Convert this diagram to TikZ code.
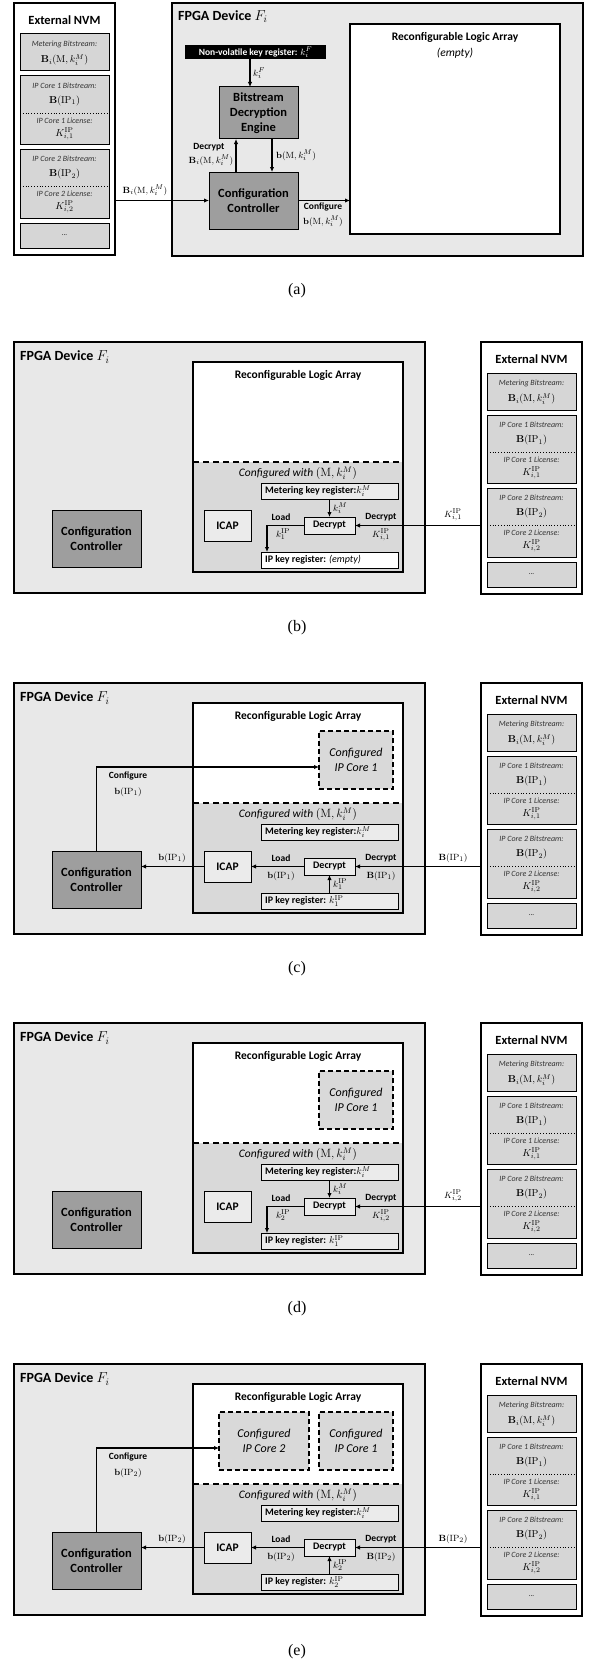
\documentclass[tikz,border=0pt]{standalone}
\usepackage[no-math]{fontspec}
\setmainfont{Carlito}
\newfontfamily\capfont{Liberation Serif}
\usetikzlibrary{arrows.meta}

\definecolor{fpgabg}{gray}{0.91}
\definecolor{nvmgray}{gray}{0.84}
\definecolor{lowgray}{gray}{0.85}
\definecolor{darkg}{gray}{0.62}
\definecolor{lightg}{gray}{0.92}
\definecolor{coreg}{gray}{0.85}

\tikzset{
 fpgabox/.style={draw, line width=2.2pt, fill=fpgabg, inner sep=0pt, outer sep=0pt},
 nvmbox/.style={draw, line width=2.2pt, fill=white, inner sep=0pt, outer sep=0pt},
 nvmitem/.style={draw, line width=1pt, fill=nvmgray, inner sep=0pt, outer sep=0pt},
 rlaa/.style={draw, line width=1.8pt, fill=white, inner sep=0pt, outer sep=0pt},
 rlab/.style={fill=white, inner sep=0pt, outer sep=0pt},
 darkbox/.style={draw, line width=1pt, fill=darkg, inner sep=1pt, outer sep=0pt, align=center, font=\bfseries\fontsize{12.5}{15}\selectfont},
 keybox/.style={fill=black, text=white, inner sep=1pt, outer sep=0pt, font=\bfseries\fontsize{9.5}{10}\selectfont},
 icapbox/.style={draw, line width=1pt, fill=lightg, inner sep=1pt, outer sep=0pt, font=\bfseries\fontsize{11.5}{13}\selectfont},
 decbox/.style={draw, line width=1pt, fill=lightg, inner sep=1pt, outer sep=0pt, font=\bfseries\fontsize{10}{11}\selectfont},
 regbox/.style={draw, line width=1pt, fill=#1, inner sep=0pt, outer sep=0pt},
 regtxt/.style={font=\bfseries\fontsize{10}{11}\selectfont, inner sep=0pt, anchor=west},
 ipcore/.style={draw, line width=2pt, dash pattern=on 5pt off 3pt, fill=coreg, inner sep=1pt, outer sep=0pt, align=center, font=\itshape\fontsize{12}{15}\selectfont},
 ttl/.style={font=\bfseries\fontsize{12.5}{14}\selectfont, inner sep=0pt},
 ttl2/.style={font=\bfseries\fontsize{11.5}{13}\selectfont, inner sep=0pt},
 ftitle/.style={font=\bfseries\fontsize{14}{16}\selectfont, inner sep=0pt},
 cfgw/.style={font=\itshape\fontsize{11.5}{13}\selectfont, inner sep=0pt},
 small/.style={font=\itshape\fontsize{8}{9}\selectfont, inner sep=0pt, text=black!80},
 mth/.style={font=\fontsize{10}{11}\selectfont, inner sep=0pt},
 lbl/.style={font=\bfseries\fontsize{9.5}{11}\selectfont, inner sep=0pt},
 mlbl/.style={font=\fontsize{9.5}{11}\selectfont, inner sep=0pt},
 conn/.style={line width=1.4pt, -{Latex[length=5pt,width=4.5pt]}},
 capt/.style={font=\capfont\fontsize{16}{18}\selectfont, inner sep=0pt},
}

\newcommand\bx[6]{\node[#1, minimum width={(#4-#2)*1pt}, minimum height={(#5-#3)*1pt}] (#6) at ({(#2+#4)/2},{(#3+#5)/2})}

\newcommand\NVM[3]{%
\begin{scope}[shift={(#2,#3)}]
\bx{nvmbox}{0}{0}{101}{252}{#1nvm} {};
\node[ttl] (#1nvmt) at (50.5,17) {External NVM};
\bx{nvmitem}{6}{31}{95}{68}{#1nm} {};
\node[small] (#1nml) at (50.5,41) {Metering Bitstream:};
\node[mth] (#1nmb) at (50.5,57) {$\mathbf{B}_i(\mathrm{M},k_i^M)$};
\bx{nvmitem}{6}{73}{95}{141}{#1np} {};
\draw[dotted, line width=0.8pt] (6,110) -- (95,110);
\node[small] (#1npa) at (50.5,83) {IP Core 1 Bitstream:};
\node[mth] (#1npb) at (50.5,98) {$\mathbf{B}(\mathrm{IP}_1)$};
\node[small] (#1npc) at (50.5,118) {IP Core 1 License:};
\node[mth] (#1npd) at (50.5,131) {$K_{i,1}^{\mathrm{IP}}$};
\bx{nvmitem}{6}{146}{95}{215}{#1nq} {};
\draw[dotted, line width=0.8pt] (6,183) -- (95,183);
\node[small] (#1nqa) at (50.5,156) {IP Core 2 Bitstream:};
\node[mth] (#1nqb) at (50.5,171) {$\mathbf{B}(\mathrm{IP}_2)$};
\node[small] (#1nqc) at (50.5,191) {IP Core 2 License:};
\node[mth] (#1nqd) at (50.5,204) {$K_{i,2}^{\mathrm{IP}}$};
\bx{nvmitem}{6}{220}{95}{245}{#1nd} {\fontsize{7}{8}\selectfont ...};
\end{scope}}

% #1 prefix, #2 y offset, #3 ipk fill, #4 ipk text, #5 extras
\newcommand\FPGA[5]{%
\begin{scope}[shift={(0,#2)}]
\bx{fpgabox}{14}{0}{425}{251}{#1f} {};
\node[ftitle, anchor=west] (#1ft) at (20,15) {FPGA Device $F_i$};
\bx{rlab}{193}{20}{403}{230}{#1rla} {};
\fill[lowgray] (193,120) rectangle (403,230);
\draw[line width=1.8pt, dash pattern=on 6pt off 4pt] (193,120) -- (403,120);
\draw[line width=1.8pt] (#1rla.north west) rectangle (#1rla.south east);
\node[ttl2] (#1rt) at (298,33) {Reconfigurable Logic Array};
\node[cfgw] (#1cw) at (298,131) {Configured with $(\mathrm{M},k_i^M)$};
\bx{regbox=lightg}{261}{141}{398}{157}{#1mkr} {};
\node[regtxt] (#1mkt) at ([xshift=4pt]#1mkr.west) {Metering key register:$k_i^M$};
\bx{regbox=#3}{261}{210}{398}{226}{#1ipk} {};
\node[regtxt] (#1ipt) at ([xshift=4pt]#1ipk.west) {#4};
\bx{icapbox}{204}{168}{251}{199}{#1icap} {ICAP};
\bx{decbox}{304}{175}{355}{192}{#1dec} {Decrypt};
\bx{darkbox}{52}{168}{141}{225}{#1cc} {Configuration\\Controller};
\end{scope}
\NVM{#1}{481}{#2}
\begin{scope}[shift={(0,#2)}]
#5
\end{scope}}

\begin{document}
\begin{tikzpicture}[x=1pt,y=-1pt]
\useasboundingbox (0,0) rectangle (594,1667);
\fill[white] (0,0) rectangle (594,1667);

% ---------------- (a)
\NVM{a}{14}{3}
\begin{scope}[shift={(0,3)}]
\bx{fpgabox}{172}{0}{583}{253}{af} {};
\node[ftitle, anchor=west] (aft) at (178,14) {FPGA Device $F_i$};
\bx{keybox}{185}{42}{326}{56}{akey} {Non-volatile key register: $k_i^F$};
\bx{darkbox}{219}{84}{298}{136}{abde} {Bitstream\\Decryption\\Engine};
\bx{darkbox}{209}{169}{298}{226}{acc} {Configuration\\Controller};
\bx{rlaa}{350}{21}{560}{231}{arla} {};
\node[ttl2] (art) at (455,34) {Reconfigurable Logic Array};
\node[cfgw] (are) at (455,50) {(empty)};
\coordinate (akx) at (250,0);
\draw[conn] (akey.south -| akx) -- (abde.north -| akx);
\node[mlbl, anchor=west] (akl) at (253,70) {$k_i^F$};
\draw[conn] (acc.north -| 236,0) -- (abde.south -| 236,0);
\node[lbl] (adl) at (209,144) {Decrypt};
\node[mlbl] (adm) at (211,157) {$\mathbf{B}_i(\mathrm{M},k_i^M)$};
\draw[conn] (abde.south -| 272,0) -- (acc.north -| 272,0);
\node[mlbl, anchor=west] (abl) at (276,152) {$\mathbf{b}(\mathrm{M},k_i^M)$};
\draw[conn] (acc.east) -- (acc.east -| arla.west);
\node[lbl] (acl) at (323,204) {Configure};
\node[mlbl] (acm) at (323,218) {$\mathbf{b}(\mathrm{M},k_i^M)$};
\end{scope}
\draw[conn] (acc.west -| anvm.east) -- (acc.west);
\node[mlbl] (anl) at (145,190) {$\mathbf{B}_i(\mathrm{M},k_i^M)$};
\node[capt] (capa) at (297,291) {(a)};

% ---------------- (b)
\FPGA{b}{342}{white}{IP key register: \mdseries\itshape(empty)}{
 \draw[conn] (bmkr.south) -- (bdec.north);
 \node[mlbl, anchor=west] (bkm) at (333,166) {$k_i^M$};
 \draw[conn] (bdec.west) -| ([xshift=6pt]bipk.north west);
 \node[lbl] (bll) at (281,175) {Load};
 \node[mlbl] (blm) at (283,192) {$k_1^{\mathrm{IP}}$};
 \draw[conn] (bdec.east -| bnvm.west) -- (bdec.east);
 \node[lbl] (bdl) at (381,175) {Decrypt};
 \node[mlbl] (bdm) at (381,193) {$K_{i,1}^{\mathrm{IP}}$};
 \node[mlbl] (bnl) at (453,173) {$K_{i,1}^{\mathrm{IP}}$};
}
\node[capt] (capb) at (297,628) {(b)};

% ---------------- (c)
\FPGA{c}{683}{lightg}{IP key register: $k_1^{\mathrm{IP}}$}{
 \bx{ipcore}{319}{48}{393}{106}{ccore} {Configured\\IP Core 1};
 \draw[conn] (cipk.north) -- (cdec.south);
 \node[mlbl, anchor=west] (ckm) at (333,201) {$k_1^{\mathrm{IP}}$};
 \draw[conn] (cdec.west) -- (cdec.west -| cicap.east);
 \node[lbl] (cll) at (281,175) {Load};
 \node[mlbl] (clm) at (281,193) {$\mathbf{b}(\mathrm{IP}_1)$};
 \draw[conn] (cdec.east -| cnvm.west) -- (cdec.east);
 \node[lbl] (cdl) at (381,175) {Decrypt};
 \node[mlbl] (cdm) at (381,193) {$\mathbf{B}(\mathrm{IP}_1)$};
 \node[mlbl] (cnl) at (453,175) {$\mathbf{B}(\mathrm{IP}_1)$};
 \draw[conn] (cicap.west) -- (cicap.west -| ccc.east);
 \node[mlbl] (cil) at (172,175) {$\mathbf{b}(\mathrm{IP}_1)$};
 \draw[conn] (ccc.north) |- ([yshift=-7pt]ccore.west);
 \node[lbl] (cgl) at (128,93) {Configure};
 \node[mlbl] (cgm) at (128,109) {$\mathbf{b}(\mathrm{IP}_1)$};
}
\node[capt] (capc) at (297,969) {(c)};

% ---------------- (d)
\FPGA{d}{1023}{lightg}{IP key register: $k_1^{\mathrm{IP}}$}{
 \bx{ipcore}{319}{48}{393}{106}{dcore} {Configured\\IP Core 1};
 \draw[conn] (dmkr.south) -- (ddec.north);
 \node[mlbl, anchor=west] (dkm) at (333,166) {$k_i^M$};
 \draw[conn] (ddec.west) -| ([xshift=6pt]dipk.north west);
 \node[lbl] (dll) at (281,175) {Load};
 \node[mlbl] (dlm) at (283,192) {$k_2^{\mathrm{IP}}$};
 \draw[conn] (ddec.east -| dnvm.west) -- (ddec.east);
 \node[lbl] (ddl) at (381,175) {Decrypt};
 \node[mlbl] (ddm) at (381,193) {$K_{i,2}^{\mathrm{IP}}$};
 \node[mlbl] (dnl) at (453,173) {$K_{i,2}^{\mathrm{IP}}$};
}
\node[capt] (capd) at (297,1309) {(d)};

% ---------------- (e)
\FPGA{e}{1364}{lightg}{IP key register: $k_2^{\mathrm{IP}}$}{
 \bx{ipcore}{219}{48}{309}{106}{ecore2} {Configured\\IP Core 2};
 \bx{ipcore}{319}{48}{393}{106}{ecore} {Configured\\IP Core 1};
 \draw[conn] (eipk.north) -- (edec.south);
 \node[mlbl, anchor=west] (ekm) at (333,201) {$k_2^{\mathrm{IP}}$};
 \draw[conn] (edec.west) -- (edec.west -| eicap.east);
 \node[lbl] (ell) at (281,175) {Load};
 \node[mlbl] (elm) at (281,193) {$\mathbf{b}(\mathrm{IP}_2)$};
 \draw[conn] (edec.east -| envm.west) -- (edec.east);
 \node[lbl] (edl) at (381,175) {Decrypt};
 \node[mlbl] (edm) at (381,193) {$\mathbf{B}(\mathrm{IP}_2)$};
 \node[mlbl] (enl) at (453,175) {$\mathbf{B}(\mathrm{IP}_2)$};
 \draw[conn] (eicap.west) -- (eicap.west -| ecc.east);
 \node[mlbl] (eil) at (172,175) {$\mathbf{b}(\mathrm{IP}_2)$};
 \draw[conn] (ecc.north) |- ([yshift=-7pt]ecore2.west);
 \node[lbl] (egl) at (128,93) {Configure};
 \node[mlbl] (egm) at (128,109) {$\mathbf{b}(\mathrm{IP}_2)$};
}
\node[capt] (cape) at (297,1652) {(e)};
\end{tikzpicture}
\end{document}
